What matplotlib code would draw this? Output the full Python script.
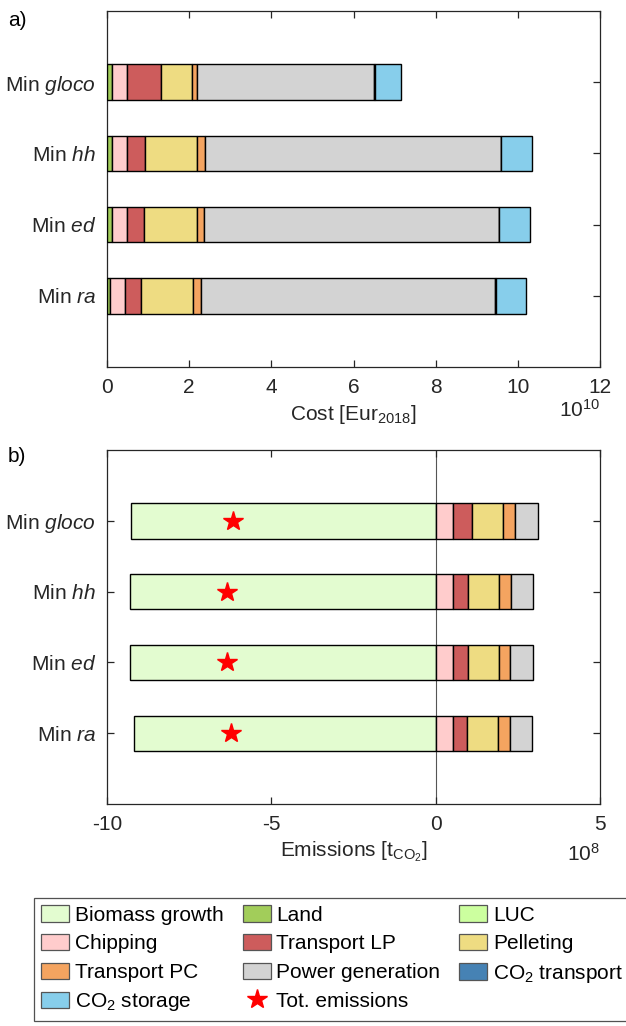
import matplotlib
matplotlib.use("Agg")
import matplotlib.pyplot as plt
from matplotlib.patches import Patch
from matplotlib.lines import Line2D
import numpy as np

plt.rcParams['font.family'] = ['Liberation Sans', 'DejaVu Sans']
plt.rcParams['mathtext.fontset'] = 'custom'
plt.rcParams['mathtext.rm'] = 'Liberation Sans'
plt.rcParams['mathtext.it'] = 'Liberation Sans:italic'
plt.rcParams['font.size'] = 15
plt.rcParams['axes.unicode_minus'] = False

# scenarios, top to bottom
scenarios = ['gloco', 'hh', 'ed', 'ra']
ylabels = ['Min $\\mathit{%s}$' % s for s in scenarios]

# a) cost, units of 1e10 Eur2018
cost_land = [0.11, 0.11, 0.11, 0.08]
cost_chipping = [0.37, 0.38, 0.38, 0.37]
cost_transport_lp = [0.83, 0.44, 0.42, 0.37]
cost_pelleting = [0.77, 1.27, 1.27, 1.28]
cost_transport_pc = [0.10, 0.19, 0.18, 0.20]
cost_power = [4.33, 7.19, 7.17, 7.14]
cost_co2_transport = [0.02, 0.02, 0.02, 0.02]
cost_co2_storage = [0.62, 0.75, 0.75, 0.73]

# b) emissions, units of 1e8 tCO2
em_biomass_growth = [-9.28, -9.31, -9.31, -9.18]
em_chipping = [0.54, 0.52, 0.52, 0.52]
em_transport_lp = [0.57, 0.47, 0.47, 0.44]
em_pelleting = [0.95, 0.94, 0.93, 0.95]
em_transport_pc = [0.35, 0.35, 0.35, 0.34]
em_power = [0.69, 0.67, 0.70, 0.69]

colors = {
    'Biomass growth': '#E3FCD0',
    'Land': '#A2CD5A',
    'LUC': '#CCFF9F',
    'Chipping': '#FFCCCC',
    'Transport LP': '#CD5C5C',
    'Pelleting': '#EEDC82',
    'Transport PC': '#F4A460',
    'Power generation': '#D3D3D3',
    'CO$_2$ transport': '#4682B4',
    'CO$_2$ storage': '#87CEEB',
}

dark = '#262626'
ypos = np.arange(len(scenarios), 0, -1)
bar_h = 0.5


def stack(ax, parts, left=None):
    left = np.zeros(len(ypos)) if left is None else np.array(left, dtype=float)
    for name, vals in parts:
        ax.barh(ypos, vals, height=bar_h, left=left, color=colors[name],
                edgecolor='black', linewidth=1.0, zorder=3)
        left = left + np.array(vals)
    return left


def style(ax):
    ax.set_ylim(0, 5)
    ax.set_yticks(ypos)
    ax.set_yticklabels(ylabels)
    ax.tick_params(direction='in', top=True, right=True, length=5, width=0.9,
                   colors=dark, pad=8)
    for s in ax.spines.values():
        s.set_color(dark)
        s.set_linewidth(0.9)


fig = plt.figure(figsize=(6.26, 10.26), dpi=100)

# a) cost
ax1 = fig.add_axes([107 / 626, 1 - 367 / 1026, 493 / 626, 356 / 1026])
stack(ax1, [('Land', cost_land), ('Chipping', cost_chipping),
            ('Transport LP', cost_transport_lp), ('Pelleting', cost_pelleting),
            ('Transport PC', cost_transport_pc), ('Power generation', cost_power),
            ('CO$_2$ transport', cost_co2_transport), ('CO$_2$ storage', cost_co2_storage)])
ax1.set_xlim(0, 12)
ax1.set_xticks(np.arange(0, 13, 2))
style(ax1)
ax1.set_xlabel('Cost [Eur$_{2018}$]', color=dark, labelpad=4)
ax1.text(1.0, -0.14, '$10^{10}$', transform=ax1.transAxes, ha='right', va='baseline', color=dark)
fig.text(8 / 626, 1 - 20 / 1026, 'a)', ha='left', va='center', color='black')

# b) emissions
ax2 = fig.add_axes([107 / 626, 1 - 804 / 1026, 493 / 626, 354 / 1026])
ax2.axvline(0, color='#555555', linewidth=0.8, zorder=1)
stack(ax2, [('Biomass growth', em_biomass_growth)])
stack(ax2, [('Chipping', em_chipping), ('Transport LP', em_transport_lp),
            ('Pelleting', em_pelleting), ('Transport PC', em_transport_pc),
            ('Power generation', em_power)])
total = (np.array(em_biomass_growth) + np.array(em_chipping) + np.array(em_transport_lp)
         + np.array(em_pelleting) + np.array(em_transport_pc) + np.array(em_power))
ax2.plot(total, ypos, linestyle='none', marker='*', color='red', markersize=15, zorder=4)
ax2.set_xlim(-10, 5)
ax2.set_xticks([-10, -5, 0, 5])
style(ax2)
ax2.set_xlabel('Emissions [t$_{\\mathrm{CO}_2}$]', color=dark, labelpad=4)
ax2.text(1.0, -0.16, '$10^{8}$', transform=ax2.transAxes, ha='right', va='baseline', color=dark)
fig.text(8 / 626, 1 - 457 / 1026, 'b)', ha='left', va='center', color='black')

# legend, MATLAB fills rows first
names = list(colors.keys())
h = {n: Patch(facecolor=colors[n], edgecolor='#555555', linewidth=0.9) for n in names}
h['Tot. emissions'] = Line2D([], [], linestyle='none', marker='*', color='red', markersize=15)
order = ['Biomass growth', 'Chipping', 'Transport PC', 'CO$_2$ storage',
         'Land', 'Transport LP', 'Power generation', 'Tot. emissions',
         'LUC', 'Pelleting', 'CO$_2$ transport']
leg = fig.legend([h[n] for n in order], order, ncols=3, loc='upper left',
                 bbox_to_anchor=(34 / 626, 1 - 898 / 1026), borderaxespad=0,
                 fancybox=False, frameon=True, fontsize=15, handlelength=1.35,
                 handleheight=0.82, handletextpad=0.27, columnspacing=0.9,
                 labelspacing=0.45, borderpad=0.35)
leg.get_frame().set_edgecolor(dark)
leg.get_frame().set_linewidth(0.9)

fig.savefig('out.png', dpi=100)
